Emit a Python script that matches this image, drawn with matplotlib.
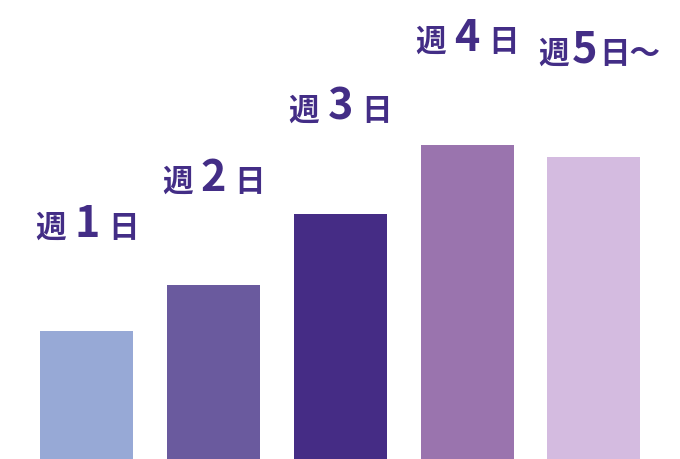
import matplotlib
matplotlib.use("Agg")
import matplotlib.pyplot as plt
from matplotlib.offsetbox import TextArea, HPacker, AnnotationBbox

# データ
categories = ["週1日", "週2日", "週3日", "週4日", "週5日～"]
label_parts = [
    ("週", "1", "日"),
    ("週", "2", "日"),
    ("週", "3", "日"),
    ("週", "4", "日"),
    ("週", "5", "日～"),
]
values = [12.8, 17.4, 24.5, 31.4, 30.2]
bar_colors = ["#97A9D6", "#6A5A9E", "#452C85", "#9A74AE", "#D4BBE0"]
TEXT_COLOR = "#432D86"

plt.rcParams["font.family"] = ["Noto Sans CJK JP", "DejaVu Sans"]

fig = plt.figure(figsize=(6.8, 4.6), dpi=100)
ax = fig.add_axes([0, 0, 1, 1])

x = list(range(len(categories)))
ax.bar(x, values, width=0.734, color=bar_colors)

ax.set_xlim(-0.685, 4.68)
ax.set_ylim(0, 46)
ax.axis("off")

# ラベル（数字だけ大きく）
for i, (pre, num, post) in enumerate(label_parts):
    sep = 6 if i < 4 else 1.5
    kw = dict(color=TEXT_COLOR, fontweight="bold")
    box = HPacker(children=[
        TextArea(pre, textprops=dict(fontsize=22, **kw)),
        TextArea(num, textprops=dict(fontsize=31, **kw)),
        TextArea(post, textprops=dict(fontsize=22, **kw)),
    ], align="baseline", pad=0, sep=sep)
    dx = 0 if i < 4 else 4
    ab = AnnotationBbox(box, (x[i], values[i]), xybox=(dx, 62),
                        xycoords="data", boxcoords="offset points",
                        box_alignment=(0.5, 0), frameon=False)
    ax.add_artist(ab)

fig.savefig("out.png", dpi=100)
